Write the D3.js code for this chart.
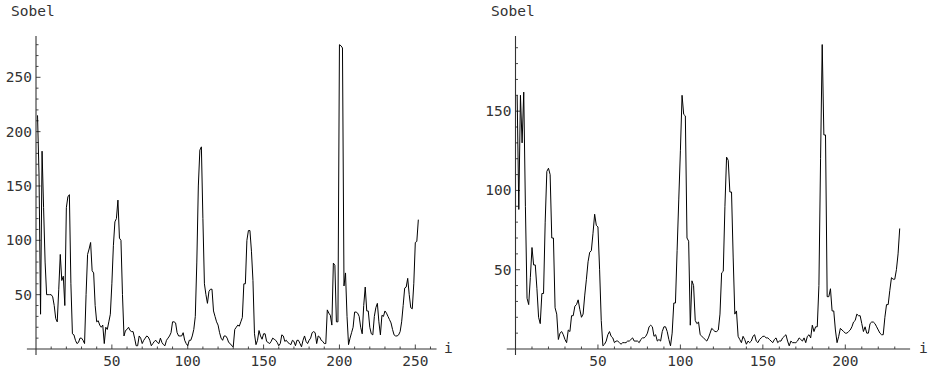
<!DOCTYPE html>
<html><head><meta charset="utf-8">
<script src="https://cdn.jsdelivr.net/npm/d3@7"></script>
<style>
html,body{margin:0;padding:0;background:#fff;}
svg{display:block;}
text{font-family:"DejaVu Sans Mono",monospace;font-size:14.5px;fill:#333;}
</style></head>
<body><svg id="c" width="929" height="376"></svg>
<script>
// Left panel series (i = 1..252)
const leftValues = [215,160,32,182,130,80,50,50,50,50,48,40,28,25,55,87,63,67,40,130,
140,142,60,14,13,8,5,6,10,10,8,5,50,87,92,98,72,70,40,25,
26,22,20,22,5,20,18,25,32,60,95,117,120,137,102,100,50,12,17,18,
20,17,16,16,10,3,3,12,10,5,8,10,12,11,8,3,5,7,8,6,
5,10,6,4,3,8,10,12,15,25,25,24,15,12,12,12,15,8,5,3,
8,8,12,18,30,80,150,183,186,120,60,50,42,53,55,55,35,30,25,22,
15,10,8,12,12,10,6,5,3,2,18,20,22,21,25,29,60,60,100,109,
109,90,63,14,4,8,17,12,9,14,14,7,6,5,7,10,9,8,6,3,
5,13,12,7,8,6,5,4,8,7,3,8,8,5,2,8,12,7,5,8,
10,15,16,15,5,12,11,8,7,5,5,36,33,31,22,79,77,25,25,280,
279,277,58,70,30,4,10,15,20,34,34,33,30,20,14,40,57,35,35,20,
14,13,30,38,42,25,13,31,30,35,33,30,27,24,18,13,12,12,13,16,
25,40,56,57,65,50,38,37,60,98,99,119];
// Right panel series (i = 1..233)
const rightValues = [160,88,160,130,162,90,32,28,45,64,53,53,38,20,16,35,35,80,112,114,
110,70,70,26,22,6,10,11,9,6,4,12,11,21,21,27,28,31,25,20,
22,34,44,55,61,62,73,85,78,77,50,18,2,3,5,9,11,8,7,4,
5,5,4,3,4,4,4,5,5,6,7,5,5,5,4,6,7,7,8,10,
14,15,14,8,9,5,6,5,11,14,14,11,6,2,10,29,29,62,94,125,
160,148,147,70,68,15,43,40,18,16,17,9,8,7,6,5,7,10,13,12,
11,11,12,22,48,49,90,121,119,99,99,58,22,24,8,6,4,8,6,3,
5,4,5,8,9,5,4,6,7,8,8,7,7,6,5,4,6,7,4,5,
5,7,8,9,5,2,5,4,4,4,5,7,6,5,7,4,8,9,7,15,
11,14,14,40,120,192,135,135,33,33,38,24,24,12,4,8,13,12,11,10,
10,11,12,14,17,18,22,21,21,16,11,14,10,10,16,17,17,16,14,12,
10,9,9,20,28,28,37,45,44,44,50,60,76];
const leftXTicks = [50,100,150,200,250];
const leftYTicks = [50,100,150,200,250];
const rightXTicks = [50,100,150,200];
const rightYTicks = [50,100,150];
const yLabel = "Sobel";
const xLabel = "i";

const svg = d3.select("#c");

function panel(cfg){
  const g = svg.append("g");
  const x = d3.scaleLinear().domain([0, cfg.xRef]).range([cfg.x0, cfg.x1]);
  const y = d3.scaleLinear().domain([0, cfg.yRef]).range([349, cfg.y1]);
  const axisColor = "#333";
  g.append("line").attr("x1", x(cfg.xMin)).attr("x2", x(cfg.xMax))
    .attr("y1", y(0)).attr("y2", y(0)).attr("stroke", axisColor).attr("stroke-width", 1.1);
  g.append("line").attr("x1", x(0)).attr("x2", x(0))
    .attr("y1", y(cfg.yMin)).attr("y2", y(cfg.yMax)).attr("stroke", axisColor).attr("stroke-width", 1.1);
  const xMinor = d3.range(10, cfg.xMax, 10).filter(v => !cfg.xTicks.includes(v));
  g.selectAll(".xmin").data(xMinor).enter().append("line")
    .attr("x1", d => x(d)).attr("x2", d => x(d)).attr("y1", y(0)).attr("y2", y(0) - 2.5)
    .attr("stroke", axisColor).attr("stroke-width", 0.9);
  g.selectAll(".xmaj").data(cfg.xTicks).enter().append("line")
    .attr("x1", d => x(d)).attr("x2", d => x(d)).attr("y1", y(0)).attr("y2", y(0) - 4.5)
    .attr("stroke", axisColor).attr("stroke-width", 0.9);
  g.selectAll(".xlab").data(cfg.xTicks).enter().append("text")
    .attr("x", d => x(d)).attr("y", 366).attr("text-anchor", "middle").text(d => d);
  const yMinor = d3.range(10, cfg.yMax, 10).filter(v => !cfg.yTicks.includes(v));
  g.selectAll(".ymin").data(yMinor).enter().append("line")
    .attr("x1", x(0)).attr("x2", x(0) + 2.5).attr("y1", d => y(d)).attr("y2", d => y(d))
    .attr("stroke", axisColor).attr("stroke-width", 0.9);
  g.selectAll(".ymaj").data(cfg.yTicks).enter().append("line")
    .attr("x1", x(0)).attr("x2", x(0) + 4.5).attr("y1", d => y(d)).attr("y2", d => y(d))
    .attr("stroke", axisColor).attr("stroke-width", 0.9);
  g.selectAll(".ylab").data(cfg.yTicks).enter().append("text")
    .attr("x", x(0) - 4).attr("y", d => y(d) + 5).attr("text-anchor", "end").text(d => d);
  g.append("text").attr("x", cfg.titleX).attr("y", 16).text(yLabel);
  g.append("text").attr("x", cfg.iX).attr("y", 353).text(xLabel);
  const line = d3.line().x((d, k) => x(k + 1)).y(d => y(d));
  g.append("path").datum(cfg.values).attr("d", line)
    .attr("fill", "none").attr("stroke", "#000").attr("stroke-width", 1).attr("stroke-linejoin", "miter");
}

panel({values: leftValues, xTicks: leftXTicks, yTicks: leftYTicks,
  xRef: 250, x0: 36, x1: 415.3, xMin: -6, xMax: 264,
  yRef: 288, y1: 36, yMin: -5.5, yMax: 288, titleX: 11, iX: 444});
panel({values: rightValues, xTicks: rightXTicks, yTicks: rightYTicks,
  xRef: 200, x0: 515.5, x1: 845.3, xMin: -5.3, xMax: 239.3,
  yRef: 197.4, y1: 36, yMin: -3.8, yMax: 197.4, titleX: 491, iX: 919});
</script></body></html>
